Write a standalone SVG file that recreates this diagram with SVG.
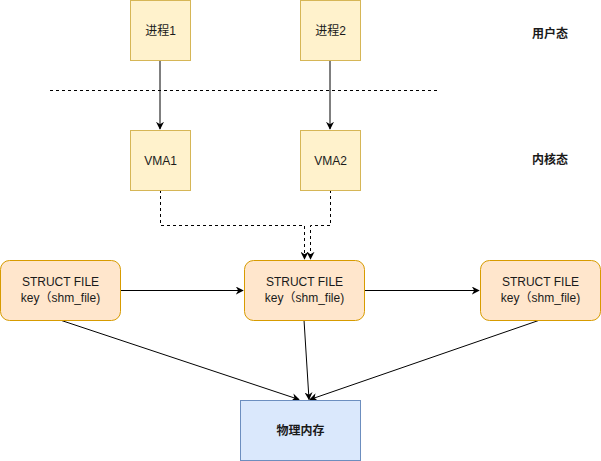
<svg xmlns="http://www.w3.org/2000/svg" width="601" height="461" viewBox="0 0 601 461">
<defs>
<marker id="arr" viewBox="0 0 10 10" refX="9" refY="5" markerWidth="8" markerHeight="8" markerUnits="userSpaceOnUse" orient="auto">
<path d="M0,0 L10,5 L0,10 L3,5 Z" fill="#000"/>
</marker>
<style>
.y{fill:#fff2cc;stroke:#d6b656;stroke-width:1}
.o{fill:#ffe6cc;stroke:#d79b00;stroke-width:1}
.b{fill:#dae8fc;stroke:#6c8ebf;stroke-width:1}
text{font-family:"Liberation Sans","Noto Sans CJK SC",sans-serif;font-size:12px;fill:#1a1a1a;text-anchor:middle;dominant-baseline:central}
.bold{font-weight:bold;font-size:12px}
.c{fill:none;stroke:#000;stroke-width:1}
.d{stroke-dasharray:3 3}
</style>
</defs>
<rect width="601" height="461" fill="#fff"/>
<line x1="50" y1="90.5" x2="438" y2="90.5" class="c d"/>
<g id="connectors">
<line x1="160" y1="60" x2="160" y2="129" class="c" marker-end="url(#arr)"/>
<line x1="330" y1="60" x2="330" y2="129" class="c" marker-end="url(#arr)"/>
<path d="M160.5,190 V225.5 H304.5 V259" class="c d" marker-end="url(#arr)"/>
<path d="M330.5,190 V225.5 H310.5 V259" class="c d" marker-end="url(#arr)"/>
<line x1="120" y1="290.5" x2="243" y2="290.5" class="c" marker-end="url(#arr)"/>
<line x1="364" y1="290.5" x2="479" y2="290.5" class="c" marker-end="url(#arr)"/>
<line x1="60" y1="320" x2="299" y2="399.5" class="c" marker-end="url(#arr)"/>
<line x1="304" y1="320" x2="309" y2="399.5" class="c" marker-end="url(#arr)"/>
<line x1="540" y1="320" x2="310" y2="399.5" class="c" marker-end="url(#arr)"/>
</g>
<g id="p1"><rect x="130.5" y="0.5" width="60" height="60" class="y"/><text x="160.5" y="30.5">进程1</text></g>
<g id="p2"><rect x="300.5" y="0.5" width="60" height="60" class="y"/><text x="330.5" y="30.5">进程2</text></g>
<g id="vma1"><rect x="130.5" y="130.5" width="60" height="60" class="y"/><text x="160.5" y="160.5">VMA1</text></g>
<g id="vma2"><rect x="300.5" y="130.5" width="60" height="60" class="y"/><text x="330.5" y="160.5">VMA2</text></g>
<g id="user"><text x="550" y="34" class="bold">用户态</text></g>
<g id="kernel"><text x="550" y="160" class="bold">内核态</text></g>
<g id="sf1"><rect x="0.5" y="260.5" width="120" height="60" rx="9" class="o"/><text x="60.5" y="282">STRUCT FILE</text><text x="60.5" y="298">key（shm_file)</text></g>
<g id="sf2"><rect x="244.5" y="260.5" width="120" height="60" rx="9" class="o"/><text x="304.5" y="282">STRUCT FILE</text><text x="304.5" y="298">key（shm_file)</text></g>
<g id="sf3"><rect x="480.5" y="260.5" width="120" height="60" rx="9" class="o"/><text x="540.5" y="282">STRUCT FILE</text><text x="540.5" y="298">key（shm_file)</text></g>
<g id="mem"><rect x="240.5" y="400.5" width="120" height="60" class="b"/><text x="300.5" y="430.5" class="bold">物理内存</text></g>
</svg>
